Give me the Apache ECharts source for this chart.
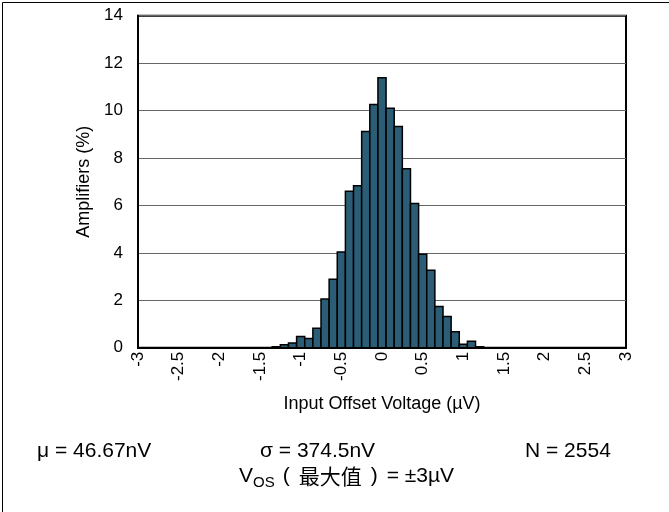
<!DOCTYPE html>
<html>
<head>
<meta charset="utf-8">
<script src="https://cdn.jsdelivr.net/npm/echarts@6/dist/echarts.min.js"></script>
<style>
html,body{margin:0;padding:0;background:#fff;}
#c{width:669px;height:512px;}
</style>
</head>
<body>
<div id="c"></div>
<script>
// Bin centers (µV), bin width 0.1
var binCenters = [-1.3, -1.2, -1.1, -1.0, -0.9, -0.8, -0.7, -0.6, -0.5, -0.4, -0.3, -0.2, -0.1, 0.0,
                  0.1, 0.2, 0.3, 0.4, 0.5, 0.6, 0.7, 0.8, 0.9, 1.0, 1.1, 1.2];
// Amplifiers (%)
var percents = [0.04, 0.12, 0.2, 0.47, 0.39, 0.82, 2.05, 2.89, 4.04, 6.6, 6.83, 9.12, 10.26, 11.38,
                10.1, 9.33, 7.55, 6.08, 3.94, 3.27, 1.74, 1.32, 0.67, 0.15, 0.27, 0.04];
var binWidth = 0.1;
var xTicks = {min: -3, max: 3, interval: 0.5};
var yTicks = {min: 0, max: 14, interval: 2};
var statsTexts = ['\u03bc = 46.67nV', '\u03c3 = 374.5nV', 'N = 2554'];

var font = 'Arial, "Liberation Sans", sans-serif';
var data = binCenters.map(function (c, i) { return [c, percents[i]]; });

var chart = echarts.init(document.getElementById('c'), null, {renderer: 'canvas'});
chart.setOption({
  animation: false,
  backgroundColor: '#fff',
  grid: {left: 138, right: 43, top: 15.7, bottom: 164.3, show: true, borderColor: '#000', borderWidth: 2, containLabel: false},
  xAxis: {
    type: 'value', min: xTicks.min, max: xTicks.max, interval: xTicks.interval,
    name: 'Input Offset Voltage (\u00b5V)', nameLocation: 'middle', nameGap: 47,
    nameTextStyle: {fontSize: 18, color: '#000', fontFamily: font},
    axisLine: {show: true, onZero: false, lineStyle: {color: '#000', width: 2}},
    axisTick: {show: false},
    splitLine: {show: false},
    axisLabel: {rotate: 90, margin: 4, fontSize: 17, color: '#000', fontFamily: font,
      formatter: function (v) { return String(Math.round(v * 10) / 10); }}
  },
  yAxis: {
    type: 'value', min: yTicks.min, max: yTicks.max, interval: yTicks.interval,
    name: 'Amplifiers (%)', nameLocation: 'middle', nameGap: 42, nameRotate: 90,
    nameTextStyle: {fontSize: 18, color: '#000', fontFamily: font},
    axisLine: {show: true, onZero: false, lineStyle: {color: '#000', width: 2}},
    axisTick: {show: false},
    splitLine: {show: true, lineStyle: {color: '#666', width: 1}},
    axisLabel: {margin: 15, fontSize: 17, color: '#000', fontFamily: font}
  },
  series: [{
    type: 'custom',
    data: data,
    encode: {x: 0, y: 1},
    renderItem: function (params, api) {
      var c = api.value(0), v = api.value(1);
      var p1 = api.coord([c - binWidth / 2, v]);
      var p2 = api.coord([c + binWidth / 2, 0]);
      return {
        type: 'rect',
        shape: {x: p1[0], y: p1[1], width: p2[0] - p1[0], height: p2[1] - p1[1]},
        style: {fill: '#2B5E76', stroke: '#000', lineWidth: 1.5}
      };
    }
  }],
  graphic: [
    {type: 'rect', left: 0, top: 0, z: 100, silent: true,
     shape: {x: 1, y: 1, width: 667, height: 510},
     style: {fill: 'none', stroke: '#000', lineWidth: 1}},
    {type: 'text', left: 37, top: 441, style: {text: statsTexts[0], fontSize: 21, fill: '#000', fontFamily: font}},
    {type: 'text', left: 260, top: 441, style: {text: statsTexts[1], fontSize: 21, fill: '#000', fontFamily: font}},
    {type: 'text', left: 525, top: 441, style: {text: statsTexts[2], fontSize: 21, fill: '#000', fontFamily: font}},
    {type: 'text', left: 239, top: 466, style: {
      text: '{v|V}{s|OS}{p|(}{t|\u6700\u5927\u503c}{q|)}{e|= \u00b13\u00b5V}',
      fill: '#000',
      rich: {
        v: {fontSize: 21, fontFamily: font, fill: '#000'},
        s: {fontSize: 15, fontFamily: font, fill: '#000', padding: [12, 0, 0, 0]},
        p: {fontSize: 21, fontFamily: font, fill: '#000', padding: [0, 9, 0, 8]},
        t: {fontSize: 21, fontFamily: '"Noto Sans CJK SC", sans-serif', fill: '#000'},
        q: {fontSize: 21, fontFamily: font, fill: '#000', padding: [0, 9, 0, 9]},
        e: {fontSize: 21, fontFamily: font, fill: '#000'}
      }
    }}
  ]
});
</script>
</body>
</html>
